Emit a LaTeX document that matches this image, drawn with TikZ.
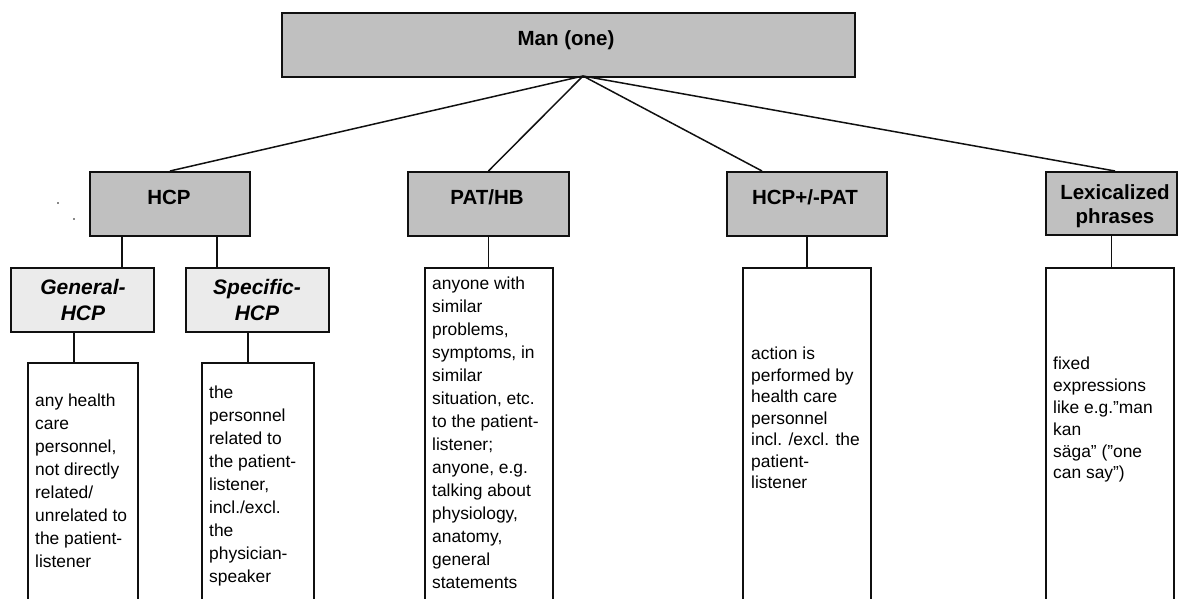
\documentclass[tikz,border=0pt]{standalone}
\usepackage{fontspec}
\setmainfont{Liberation Sans}
\usetikzlibrary{calc}
\definecolor{boxgray}{HTML}{C0C0C0}
\definecolor{subgray}{HTML}{EBEBEB}
\definecolor{edge}{HTML}{101010}
\newcommand{\sq}{\symbol{34}}
\begin{document}
\begin{tikzpicture}[x=1pt,y=-1pt,
  catbox/.style={draw=edge, line width=1.9pt, fill=boxgray, inner sep=0pt, anchor=north west},
  subbox/.style={catbox, fill=subgray, line width=1.6pt},
  descbox/.style={draw=edge, line width=1.5pt, fill=white, inner sep=0pt, anchor=north west},
  lbl/.style={font=\fontsize{20.5}{24}\selectfont\bfseries, inner sep=0pt, align=center},
  sublbl/.style={font=\fontsize{21}{26}\selectfont\bfseries\itshape, inner sep=0pt, align=center},
  desc/.style={font=\fontsize{17.4}{23}\selectfont, inner sep=0pt, align=left, anchor=north west},
  conn/.style={draw=edge, line width=1.5pt}]
\useasboundingbox (0,0) rectangle (1178,599);
\clip (0,0) rectangle (1178,599);
% boxes
\node[catbox, minimum width=573pt, minimum height=64pt] (man) at (281,12) {};
\node[catbox, minimum width=160pt, minimum height=64pt] (hcp) at (89,171) {};
\node[catbox, minimum width=161pt, minimum height=64pt] (pat) at (407,171) {};
\node[catbox, minimum width=160pt, minimum height=64pt] (hpp) at (726,171) {};
\node[catbox, minimum width=131pt, minimum height=63pt] (lex) at (1045,171) {};
\node[subbox, minimum width=143pt, minimum height=64pt] (gen) at (10,267) {};
\node[subbox, minimum width=143pt, minimum height=64pt] (spec) at (185,267) {};
\node[descbox, minimum width=110pt, minimum height=260pt] (gent) at (27,362) {};
\node[descbox, minimum width=112pt, minimum height=260pt] (spect) at (201,362) {};
\node[descbox, minimum width=128pt, minimum height=360pt] (patt) at (424,267) {};
\node[descbox, minimum width=128pt, minimum height=360pt] (hppt) at (742,267) {};
\node[descbox, minimum width=128pt, minimum height=360pt] (lext) at (1045,267) {};
% labels
\node[lbl, anchor=base] (manl) at (566,45.5) {Man (one)};
\node[lbl, anchor=base] (hcpl) at (169,204.3) {HCP};
\node[lbl, anchor=base] (patl) at (487,204.3) {PAT/HB};
\node[lbl, anchor=base] (hppl) at (805,204.3) {HCP+/-PAT};
\node[lbl, anchor=north] (lexl) at (1115,184) {Lexicalized\\phrases};
\node[sublbl, anchor=north] (genl) at (83,279) {General-\\HCP};
\node[sublbl, anchor=north] (specl) at (257,279) {Specific-\\HCP};
% descriptions
\node[desc] (gentx) at (35,394) {any health\\care\\personnel,\\not directly\\related/\\unrelated to\\the patient-\\listener};
\node[desc] (spectx) at (209,386) {the\\personnel\\related to\\the patient-\\listener,\\incl./excl.\\the\\physician-\\speaker};
\node[desc] (pattx) at (432,277) {anyone with\\similar\\problems,\\symptoms, in\\similar\\situation, etc.\\to the patient-\\listener;\\anyone, e.g.\\talking about\\physiology,\\anatomy,\\general\\statements};
\node[desc, font=\fontsize{17.4}{21.5}\selectfont] (hpptx) at (751,347) {action is\\performed by\\health care\\personnel\\incl. /excl. the\\patient-\\listener};
\node[desc, font=\fontsize{17.4}{21.8}\selectfont] (lextx) at (1053,357) {fixed\\expressions\\like e.g.\sq man\\kan\\säga\sq{} (\sq one\\can say\sq)};
% connectors
\coordinate (apex) at (583,76);
\coordinate (hppin) at ([xshift=36pt]hpp.north west);
\coordinate (lexin) at ([xshift=70pt]lex.north west);
\coordinate (hcpa) at ([xshift=33pt]hcp.south west);
\coordinate (hcpb) at ([xshift=128pt]hcp.south west);
\coordinate (gena) at ([xshift=64pt]gen.south west);
\coordinate (speca) at ([xshift=63pt]spec.south west);
\draw[conn] (apex) -- (hcp.north);
\draw[conn] (apex) -- (pat.north);
\draw[conn] (apex) -- (hppin);
\draw[conn] (apex) -- (lexin);
\draw[conn] (hcpa) -- (hcpa |- gen.north);
\draw[conn] (hcpb) -- (hcpb |- spec.north);
\draw[conn] (gena) -- (gena |- gent.north);
\draw[conn] (speca) -- (speca |- spect.north);
\draw[conn] (pat.south) -- (pat.south |- patt.north);
\draw[conn] (hpp.south) -- (hpp.south |- hppt.north);
\draw[conn] (lex.south) -- (lex.south |- lext.north);
% stray marks
\fill[edge] (58,203) circle (0.8);
\fill[edge] (74,219) circle (0.8);
\end{tikzpicture}
\end{document}
